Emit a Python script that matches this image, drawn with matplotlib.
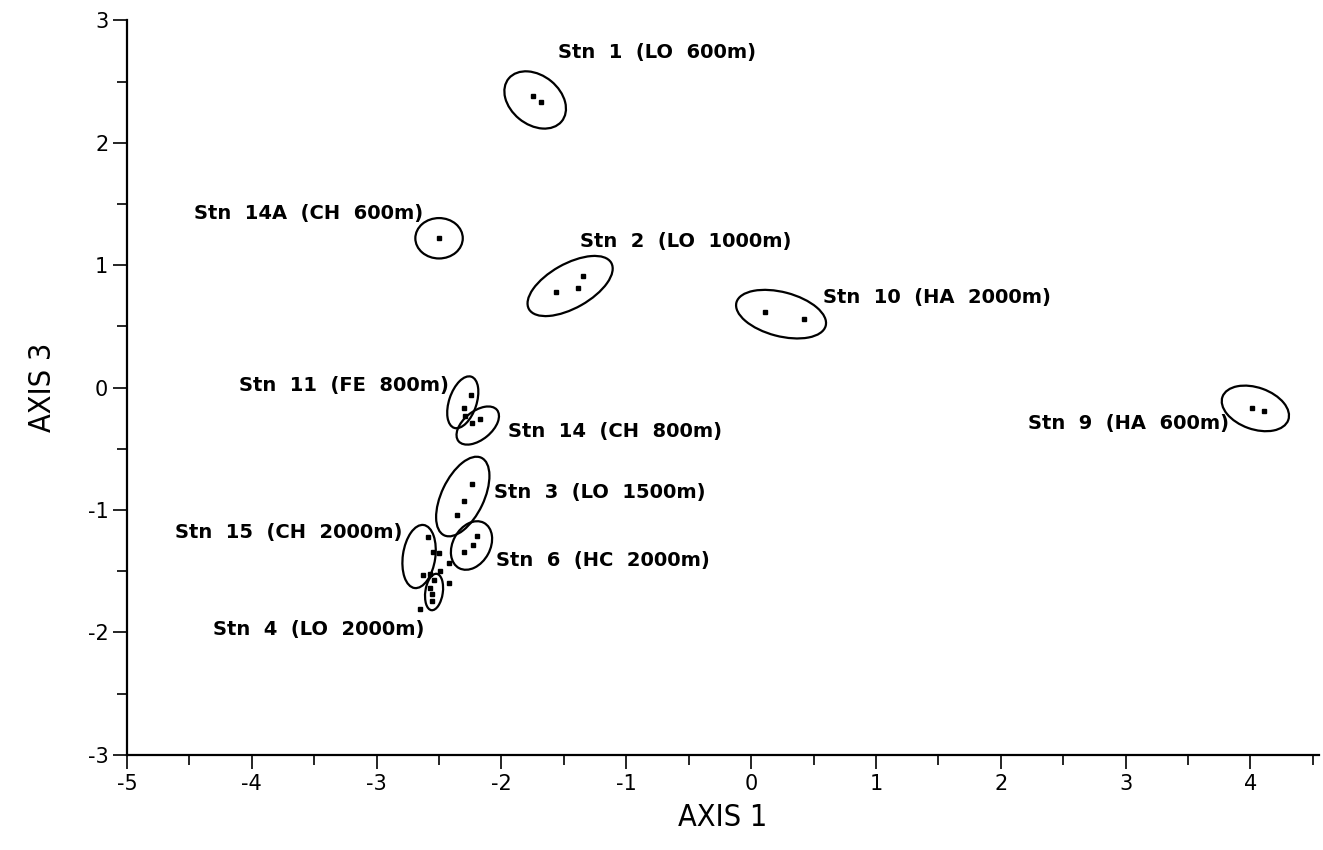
import matplotlib.pyplot as plt
from matplotlib.patches import Ellipse

plt.rcParams['axes.unicode_minus'] = False

# station labels and their sample scores (axis 1, axis 3)
stations = ["Stn 1 (LO 600m)", "Stn 14A (CH 600m)", "Stn 2 (LO 1000m)",
            "Stn 10 (HA 2000m)", "Stn 9 (HA 600m)", "Stn 11 (FE 800m)",
            "Stn 14 (CH 800m)", "Stn 3 (LO 1500m)", "Stn 15 (CH 2000m)",
            "Stn 6 (HC 2000m)", "Stn 4 (LO 2000m)"]

x_scores = [
    [-1.75, -1.68],
    [-2.50],
    [-1.565, -1.39, -1.35],
    [0.11, 0.42],
    [4.01, 4.11],
    [-2.245, -2.30, -2.29],
    [-2.24, -2.17],
    [-2.24, -2.30, -2.36],
    [-2.59, -2.55, -2.50, -2.63, -2.57, -2.42],
    [-2.20, -2.23, -2.30],
    [-2.49, -2.54, -2.57, -2.56, -2.56, -2.42, -2.65],
]
y_scores = [
    [2.38, 2.33],
    [1.22],
    [0.78, 0.816, 0.91],
    [0.62, 0.56],
    [-0.17, -0.19],
    [-0.06, -0.17, -0.23],
    [-0.29, -0.26],
    [-0.79, -0.93, -1.04],
    [-1.22, -1.34, -1.35, -1.53, -1.52, -1.43],
    [-1.21, -1.29, -1.34],
    [-1.50, -1.57, -1.64, -1.69, -1.74, -1.60, -1.81],
]

# ellipse: centre x, centre y, width, height, angle
ell_cx = [-1.73, -2.50, -1.45, 0.24, 4.04, -2.31, -2.19, -2.31, -2.66, -2.24, -2.54]
ell_cy = [2.35, 1.22, 0.83, 0.60, -0.17, -0.12, -0.31, -0.89, -1.38, -1.29, -1.67]
ell_w = [0.55, 0.38, 0.76, 0.74, 0.56, 0.44, 0.40, 0.70, 0.52, 0.42, 0.30]
ell_h = [0.40, 0.33, 0.36, 0.36, 0.34, 0.22, 0.23, 0.34, 0.26, 0.30, 0.14]
ell_ang = [-40, 0, 30, -15, -20, 72, 40, 65, 82, 62, 82]

# label anchor points and alignment
lab_x = [-1.55, -2.63, -1.37, 0.58, 3.83, -2.42, -1.95, -2.06, -2.79, -2.04, -2.62]
lab_y = [2.74, 1.42, 1.19, 0.74, -0.29, 0.02, -0.36, -0.86, -1.18, -1.41, -1.98]
lab_ha = ["left", "right", "left", "left", "right", "right", "left", "left",
          "right", "left", "right"]

fig = plt.figure(figsize=(13.23, 8.5), dpi=100)
ax = fig.add_axes([0.096, 0.112, 0.901, 0.864])

for i, name in enumerate(stations):
    ax.plot(x_scores[i], y_scores[i], 's', color='black', markersize=3)
    ax.add_patch(Ellipse((ell_cx[i], ell_cy[i]), ell_w[i], ell_h[i], angle=ell_ang[i],
                         fill=False, edgecolor='black', linewidth=1.6))
    # the original lettering is widely spaced
    ax.text(lab_x[i], lab_y[i], name.replace(" ", "  "), ha=lab_ha[i], va='center',
            fontsize=14, fontweight='bold')

ax.set_xlim(-5, 4.55)
ax.set_ylim(-3, 3)
ax.set_xticks(range(-5, 5))
ax.set_yticks(range(-3, 4))
ax.set_xticks([v / 2 for v in range(-9, 10, 2)], minor=True)
ax.set_yticks([v / 2 for v in range(-5, 6, 2)], minor=True)
ax.tick_params(which='major', length=10, width=1.2, labelsize=15, direction='out')
ax.tick_params(which='minor', length=7, width=1.2, direction='out')
ax.tick_params(axis='x', pad=4)

for s in ['top', 'right']:
    ax.spines[s].set_visible(False)
for s in ['left', 'bottom']:
    ax.spines[s].set_linewidth(1.6)

ax.set_xlabel("AXIS 1", fontsize=22, fontstretch='condensed', labelpad=6)
ax.set_ylabel("AXIS 3", fontsize=22, fontstretch='condensed', labelpad=22)

fig.savefig("out.png", dpi=100)
